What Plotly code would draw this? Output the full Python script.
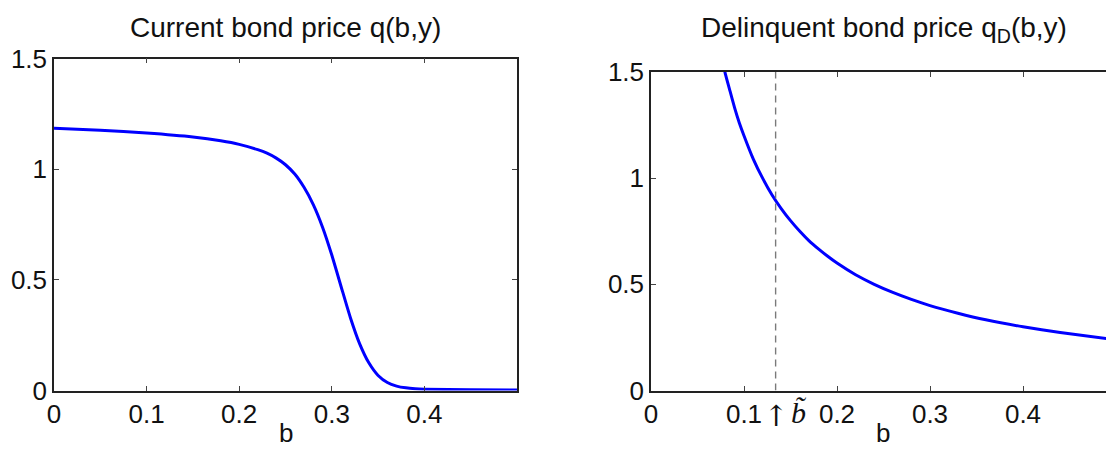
import plotly.graph_objects as go

# Left panel: current bond price q(b,y)
b_cur = [0.00, 0.05, 0.10, 0.15, 0.18, 0.20, 0.22, 0.23, 0.24, 0.25, 0.26, 0.27, 0.28,
         0.29, 0.30, 0.31, 0.32, 0.33, 0.34, 0.35, 0.36, 0.37, 0.38, 0.39, 0.40, 0.45, 0.50]
q_cur = [1.185, 1.176, 1.163, 1.145, 1.128, 1.112, 1.088, 1.072, 1.050, 1.020, 0.978,
         0.918, 0.840, 0.738, 0.612, 0.470, 0.330, 0.212, 0.125, 0.068, 0.036, 0.020,
         0.012, 0.008, 0.006, 0.003, 0.002]

# Right panel: delinquent bond price q_D(b,y)
b_del = [0.078, 0.080, 0.085, 0.090, 0.095, 0.10, 0.11, 0.12, 0.13, 0.14, 0.15, 0.16,
         0.17, 0.18, 0.19, 0.20, 0.22, 0.24, 0.26, 0.28, 0.30, 0.33, 0.36, 0.40, 0.44, 0.49]
q_del = [1.53, 1.49, 1.41, 1.33, 1.26, 1.20, 1.09, 1.00, 0.922, 0.857, 0.80, 0.75,
         0.705, 0.667, 0.632, 0.60, 0.545, 0.50, 0.462, 0.429, 0.40, 0.364, 0.333,
         0.30, 0.273, 0.245]

b_tilde = 0.134

x_ticks = [0, 0.1, 0.2, 0.3, 0.4]
x_tick_labels = ["0", "0.1", "0.2", "0.3", "0.4"]
y_ticks = [0, 0.5, 1, 1.5]
y_tick_labels = ["0", "0.5", "1", "1.5"]

titles = ["Current bond price q(b,y)", "Delinquent bond price q<sub>D</sub>(b,y)"]

W, H = 1106, 450
FONT = "Liberation Sans, Arial, Helvetica, sans-serif"
BLUE = "#0000ff"

fig = go.Figure()
fig.add_trace(go.Scatter(x=b_cur, y=q_cur, mode="lines", xaxis="x", yaxis="y",
                         line=dict(color=BLUE, width=3, shape="spline", smoothing=0.5),
                         showlegend=False, hoverinfo="skip"))
fig.add_trace(go.Scatter(x=b_del, y=q_del, mode="lines", xaxis="x2", yaxis="y2",
                         line=dict(color=BLUE, width=3, shape="spline", smoothing=0.5),
                         showlegend=False, hoverinfo="skip"))
fig.add_trace(go.Scatter(x=[b_tilde, b_tilde], y=[0, 1.5], mode="lines", xaxis="x2", yaxis="y2",
                         line=dict(color="#7a7a7a", width=1.4, dash="7px,5px"),
                         showlegend=False, hoverinfo="skip"))

def px_x(p):
    return p / W

def px_y(p):
    return 1 - p / H

axis_common = dict(
    showgrid=False, zeroline=False, showline=True, linecolor="#222222", linewidth=1.5,
    ticks="inside", ticklen=5, tickcolor="#444444", tickwidth=1, automargin=False,
    tickfont=dict(family=FONT, size=26, color="#111111"),
)

fig.update_layout(
    template="none",
    width=W, height=H, margin=dict(l=0, r=0, t=0, b=0, pad=0),
    paper_bgcolor="white", plot_bgcolor="white",
    xaxis=dict(domain=[px_x(54), px_x(517)], range=[0, 0.5], tickvals=x_ticks,
               ticktext=x_tick_labels, mirror="ticks", anchor="y", **axis_common),
    yaxis=dict(domain=[px_y(390.5), px_y(58.5)], range=[0, 1.5], tickvals=y_ticks,
               ticktext=y_tick_labels, mirror="ticks", anchor="x", **axis_common),
    xaxis2=dict(domain=[px_x(651), 1.0], range=[0, (1106 - 651) / 930], tickvals=x_ticks,
                ticktext=x_tick_labels, mirror="ticks", anchor="y2", **axis_common),
    yaxis2=dict(domain=[px_y(390.5), px_y(72)], range=[0, 1.5], tickvals=y_ticks,
                ticktext=y_tick_labels, mirror=False, anchor="x2", **axis_common),
)

annotations = [
    dict(text=titles[0], x=px_x(285.5), y=px_y(27), xref="paper", yref="paper",
         showarrow=False, font=dict(family=FONT, size=28, color="#111111"),
         xanchor="center", yanchor="middle"),
    dict(text=titles[1], x=px_x(884), y=px_y(30), xref="paper", yref="paper",
         showarrow=False, font=dict(family=FONT, size=28, color="#111111"),
         xanchor="center", yanchor="middle"),
    dict(text="b", x=px_x(285.5), y=px_y(433), xref="paper", yref="paper",
         showarrow=False, font=dict(family=FONT, size=26, color="#111111"),
         xanchor="center", yanchor="middle", borderpad=0),
    dict(text="b", x=px_x(883), y=px_y(433), xref="paper", yref="paper",
         showarrow=False, font=dict(family=FONT, size=26, color="#111111"),
         xanchor="center", yanchor="middle", borderpad=0),
    dict(text="↑", x=b_tilde, xref="x2", y=px_y(416), yref="paper",
         showarrow=False, font=dict(family="DejaVu Serif, serif", size=29, color="#111111"),
         xanchor="center", yanchor="middle"),
    dict(text="<i>b̃</i>", x=px_x(798), y=px_y(412), xref="paper", yref="paper",
         showarrow=False, font=dict(family="Liberation Serif, DejaVu Serif, serif", size=30, color="#111111"),
         xanchor="center", yanchor="middle"),
]
fig.update_layout(annotations=annotations)

fig.write_html("out.html")
